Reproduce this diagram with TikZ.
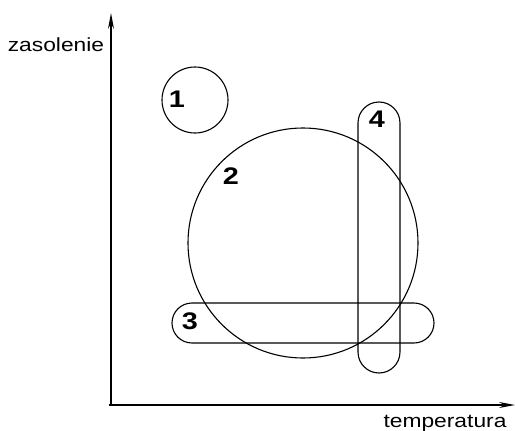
\documentclass[tikz,border=0pt]{standalone}
\usepackage{fontspec}
\setmainfont{Liberation Sans}
\usetikzlibrary{arrows.meta}
\begin{document}
\begin{tikzpicture}[x=1pt,y=-1pt,
  axis/.style={line width=1.5pt,-{Stealth[length=16pt,width=6pt]}},
  region/.style={line width=1.1pt},
  axlabel/.style={font=\fontsize{19}{21}\selectfont,xscale=1.2,inner sep=0pt,anchor=base},
  num/.style={font=\fontsize{24}{26}\selectfont\bfseries,xscale=1.2,inner sep=0pt,anchor=base}]
\useasboundingbox (0,0) rectangle (515,431);
\coordinate (O) at (111,405);
\coordinate (ytip) at (111,13);
\coordinate (xtip) at (515,405);
\draw[axis] (O) -- (ytip);
\draw[axis] (109,405) -- (xtip);
\node[axlabel] (ylab) at (56,51) {zasolenie};
\node[axlabel] (xlab) at (445,427) {temperatura};
% region 1
\draw[region] (195,100) circle[radius=33];
\node[num] (n1) at (177,107) {1};
% region 2
\draw[region] (303,243) circle[radius=115];
\node[num] (n2) at (231,184) {2};
% region 4
\draw[region,rounded corners=21pt] (358,102) rectangle (400,373);
\node[num] (n4) at (377,127) {4};
% region 3
\draw[region,rounded corners=20pt] (172,303) rectangle (434,343);
\node[num] (n3) at (190,329) {3};
\end{tikzpicture}
\end{document}
